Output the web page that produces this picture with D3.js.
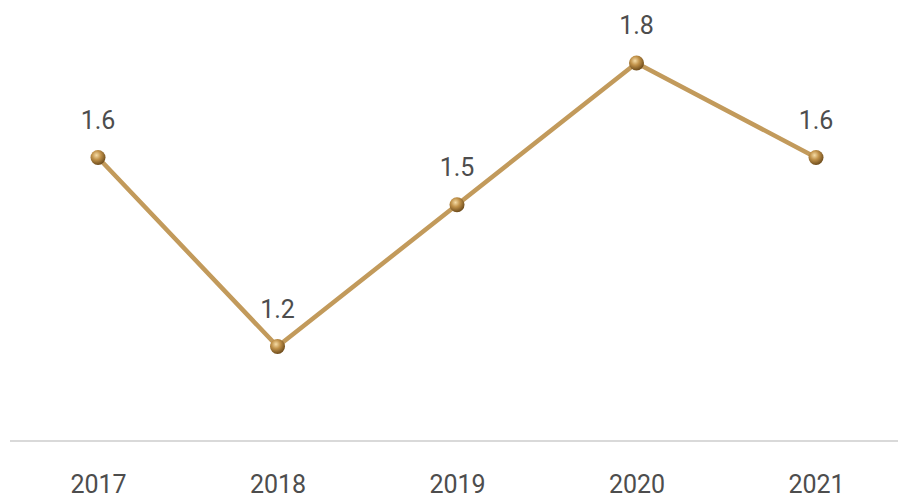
<!DOCTYPE html>
<html><head><meta charset="utf-8">
<script src="https://cdn.jsdelivr.net/npm/d3@7"></script>
<style>html,body{margin:0;padding:0;background:#fff;overflow:hidden}</style>
</head><body>
<svg id="c" width="899" height="498"></svg>
<script>
const categories = ["2017","2018","2019","2020","2021"];
const values = [1.6, 1.2, 1.5, 1.8, 1.6];

const svg = d3.select("#c");
const x = d3.scalePoint().domain(categories).range([98, 816]);
const y = d3.scaleLinear().domain([1.0, 1.8]).range([441, 63]);

const defs = svg.append("defs");
const g = defs.append("radialGradient").attr("id","ball").attr("cx","40%").attr("cy","35%").attr("r","65%");
g.append("stop").attr("offset","0%").attr("stop-color","#f6dca6");
g.append("stop").attr("offset","45%").attr("stop-color","#c1924a");
g.append("stop").attr("offset","100%").attr("stop-color","#6e4c1c");

const axis = svg.append("g").attr("transform","translate(0,441)")
  .call(d3.axisBottom(x).tickSize(0).tickPadding(34));
axis.select(".domain").remove();
axis.append("line").attr("x1",10).attr("x2",898).attr("y1",0).attr("y2",0)
  .attr("stroke","#d9d9d9").attr("stroke-width",2);
axis.selectAll("text").attr("font-family","Roboto, 'Open Sans', sans-serif")
  .attr("font-size",25).attr("fill","#4d4d4d").attr("dy","0.71em");

const data = categories.map((c,i)=>({c, v: values[i]}));

svg.append("path").datum(data)
  .attr("fill","none").attr("stroke","#c29a5b").attr("stroke-width",4.5)
  .attr("stroke-linejoin","round")
  .attr("d", d3.line().x(d=>x(d.c)).y(d=>y(d.v)));

svg.selectAll("circle.pt").data(data).join("circle").attr("class","pt")
  .attr("cx",d=>x(d.c)).attr("cy",d=>y(d.v)).attr("r",7.5)
  .attr("fill","url(#ball)");

svg.selectAll("text.lbl").data(data).join("text").attr("class","lbl")
  .attr("x",d=>x(d.c)).attr("y",d=>y(d.v)-29)
  .attr("text-anchor","middle")
  .attr("font-family","Roboto, 'Open Sans', sans-serif")
  .attr("font-size",25).attr("fill","#4d4d4d")
  .text(d=>d3.format(".1f")(d.v));
</script>
</body></html>
